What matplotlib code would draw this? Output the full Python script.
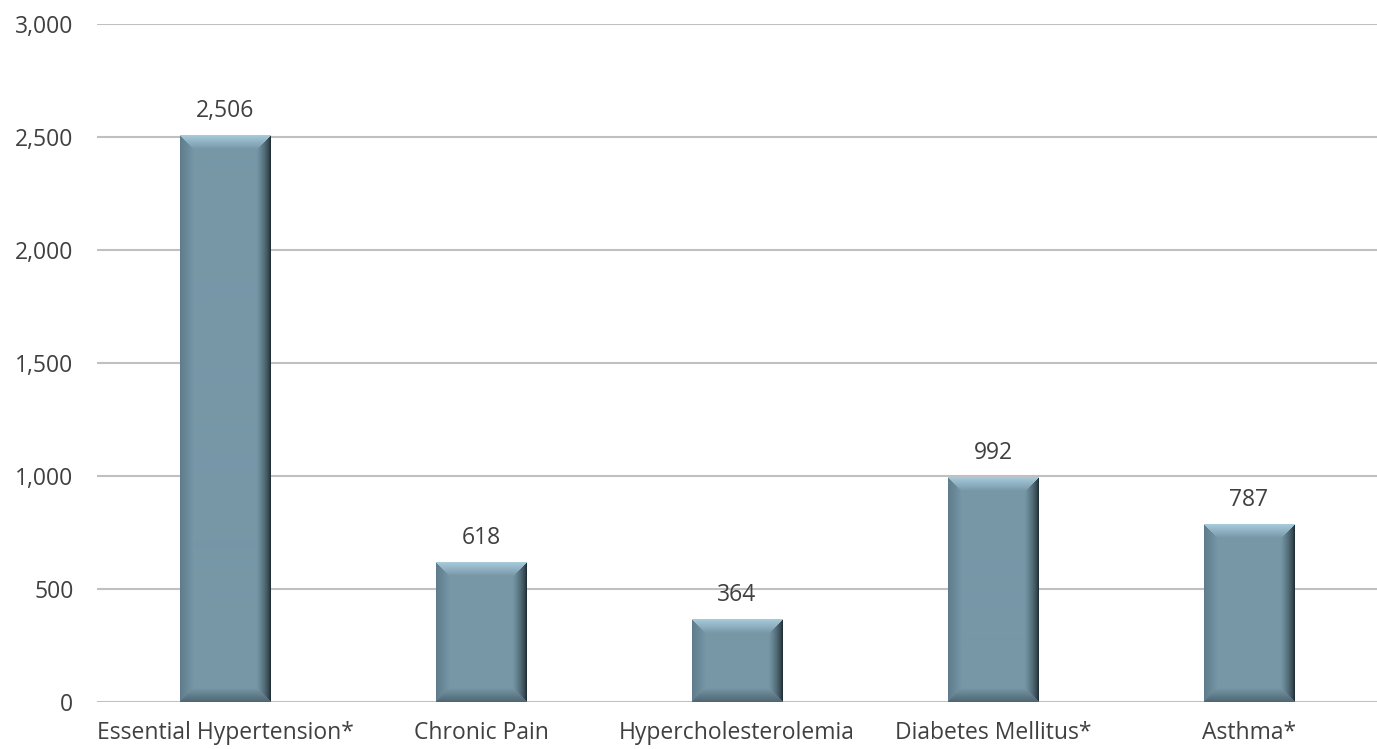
import numpy as np
import matplotlib.pyplot as plt

categories = ['Essential Hypertension*', 'Chronic Pain', 'Hypercholesterolemia',
              'Diabetes Mellitus*', 'Asthma*']
counts = [2506, 618, 364, 992, 787]
yticks = [0, 500, 1000, 1500, 2000, 2500, 3000]

plt.rcParams['font.family'] = ['Open Sans', 'DejaVu Sans']
text_color = '#404040'

fig = plt.figure(figsize=(13.77, 7.49), dpi=100)
ax = fig.add_axes([97/1377, 47/749, 1 - 97/1377, 678/749])

x = np.arange(len(categories))
bars = ax.bar(x, counts, width=0.355, color='#7797a7', zorder=3)

ax.set_xlim(-0.5, len(categories) - 0.5)
ax.set_ylim(0, 3000)
ax.set_yticks(yticks)
ax.set_yticklabels([f'{v:,}' for v in yticks])
ax.set_xticks(x)
ax.set_xticklabels(categories)
ax.tick_params(axis='both', length=0, labelsize=16.5, colors=text_color)
ax.tick_params(axis='y', pad=17)
ax.tick_params(axis='x', pad=14)
for s in ax.spines.values():
    s.set_visible(False)
ax.grid(axis='y', color='#c0c0c0', linewidth=1.5, zorder=0)

# bevelled look: shade each bar with an image clipped to the bar
face = np.array([0x77, 0x97, 0xa7]) / 255
top_c = np.array([0xa8, 0xcc, 0xdc]) / 255
bot_c = np.array([0x4e, 0x66, 0x72]) / 255
left_c = np.array([0x5e, 0x7c, 0x8a]) / 255
right_c = np.array([0x14, 0x20, 0x25]) / 255
depth = 14  # px

fig.canvas.draw()
for r in bars:
    x0, w, h = r.get_x(), r.get_width(), r.get_height()
    (p0x, p0y), (p1x, p1y) = ax.transData.transform([[x0, 0], [x0 + w, h]])
    W, H = int(round(p1x - p0x)), int(round(p1y - p0y))
    jj, ii = np.meshgrid(np.arange(W) + 0.5, np.arange(H) + 0.5)
    d = np.stack([ii, H - ii, jj, W - jj])  # top, bottom, left, right
    side = d.argmin(axis=0)
    dist = d.min(axis=0)
    t = np.clip(dist / depth, 0, 1)[..., None]
    img = np.empty((H, W, 3))
    for k, c in enumerate([top_c, bot_c, left_c, right_c]):
        tk = t ** 0.6 if k == 3 else t
        mix = c * (1 - tk) + face * tk
        img[side == k] = mix[side == k]
    ax.imshow(img, extent=(x0, x0 + w, 0, h), origin='upper', aspect='auto',
              interpolation='bilinear', zorder=4)

ax.set_xlim(-0.5, len(categories) - 0.5)
ax.set_ylim(0, 3000)

for xi, v in zip(x, counts):
    ax.annotate(f'{v:,}', (xi, v), xytext=(0, 9), textcoords='offset points',
                ha='center', va='bottom', fontsize=16.5, color=text_color)

fig.savefig('out.png', dpi=100)
